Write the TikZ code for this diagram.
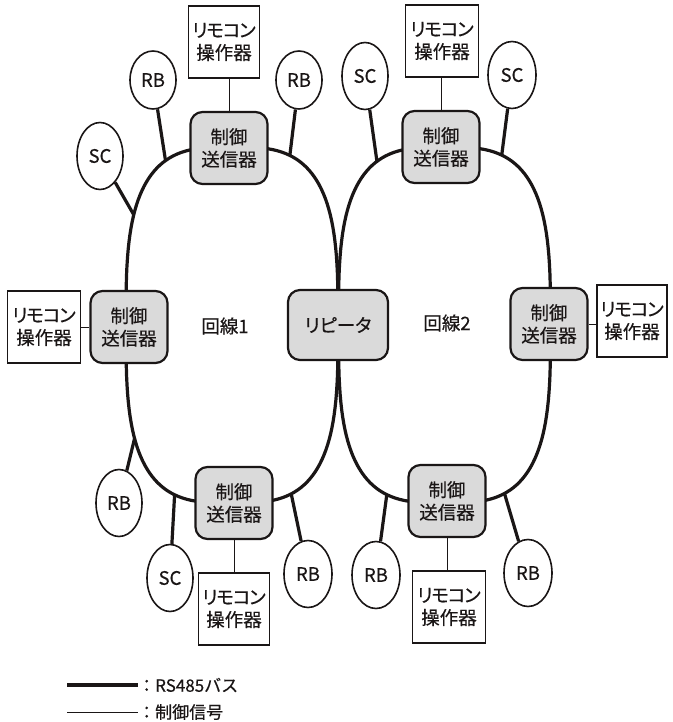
\documentclass[tikz,border=0pt]{standalone}
\usepackage{fontspec}
\setmainfont{Noto Sans CJK JP}[RawFeature={+palt}, FakeBold=0.4]
\newfontfamily\jpf{Noto Sans CJK JP}[FakeBold=0.4]
\newfontfamily\jpk{Noto Sans CJK JP}[RawFeature={+palt}, FakeBold=0.4, LetterSpace=-6]
\usetikzlibrary{shapes.geometric}
\definecolor{boxgray}{RGB}{218,218,218}
\definecolor{ink}{RGB}{26,22,22}
\newcommand{\busPt}[4]{\coordinate (#1) at ({#2 + 106*((cos(#4)>=0)?1:-1)*abs(cos(#4))^0.625}, {#3 - 178*((sin(#4)>=0)?1:-1)*abs(sin(#4))^0.625});}
\newcommand{\busLoop}[2]{\draw[bus] plot[domain=0.3:360.3, samples=145, variable=\t] ({#1 + 106*((cos(\t)>=0)?1:-1)*abs(cos(\t))^0.625}, {#2 - 178*((sin(\t)>=0)?1:-1)*abs(sin(\t))^0.625}) -- cycle;}
\newcommand{\remtxt}{{\jpk リモコン}\\操作器}
\tikzset{
  bus/.style={line width=3.2pt, draw=ink, line join=round},
  tap/.style={line width=3.2pt, draw=ink},
  sig/.style={line width=1pt, draw=ink},
  txt/.style={font=\fontsize{18.5}{22.5}\selectfont, text=ink, align=center},
  ctl/.style={txt, draw=ink, line width=2.2pt, rounded corners=12pt, fill=boxgray,
    minimum width=77pt, minimum height=72pt, inner sep=0pt},
  rem/.style={txt, draw=ink, line width=1.2pt, fill=white,
    minimum width=71pt, minimum height=72pt, inner sep=0pt},
  dev/.style={txt, draw=ink, ellipse, line width=1.6pt, fill=white,
    minimum width=46pt, minimum height=67pt, inner sep=0pt},
  devs/.style={dev, minimum height=58pt},
}
\begin{document}
\begin{tikzpicture}[x=1pt,y=-1pt]
\useasboundingbox (0,0) rectangle (672,722);
\fill[white] (0,0) rectangle (672,722);
% RS485 bus loops
\busLoop{232}{325}
\busLoop{444.5}{325}
% junction points on the loops
\busPt{j1a}{232}{325}{118.3}
\busPt{j1b}{232}{325}{67.7}
\busPt{j1c}{232}{325}{152.3}
\busPt{j1d}{232}{325}{209.1}
\busPt{j1e}{232}{325}{248}
\busPt{j1f}{232}{325}{293.2}
\busPt{j2a}{444.5}{325}{119.1}
\busPt{j2b}{444.5}{325}{68.1}
\busPt{j2c}{444.5}{325}{247.8}
\busPt{j2d}{444.5}{325}{293.7}
% control transmitters and repeater
\node[ctl] (c1t) at (229,148) {制御\\送信器};
\node[ctl] (c1l) at (129,327) {制御\\送信器};
\node[ctl] (c1b) at (234,503) {制御\\送信器};
\node[ctl, minimum width=100pt, minimum height=70pt] (rep) at (338,325) {リピータ};
\node[ctl] (c2t) at (441,147) {制御\\送信器};
\node[ctl] (c2r) at (549,324) {制御\\送信器};
\node[ctl] (c2b) at (447,501) {制御\\送信器};
% remote operators
\node[rem] (r1t) at (224,42) {\remtxt};
\node[rem, minimum width=73pt] (r1l) at (44,327) {\remtxt};
\node[rem] (r1b) at (234,609) {\remtxt};
\node[rem, minimum width=73pt] (r2t) at (442,41) {\remtxt};
\node[rem, minimum width=70pt] (r2r) at (632,321) {\remtxt};
\node[rem, minimum width=73pt] (r2b) at (449,607) {\remtxt};
% devices
\node[devs] (d1a) at (153,80) {RB};
\node[devs] (d1b) at (299,80) {RB};
\node[dev] (d1c) at (100,156) {SC};
\node[dev] (d1d) at (119,503) {RB};
\node[dev] (d1e) at (170,578) {SC};
\node[dev, minimum width=48pt] (d1f) at (308,574) {RB};
\node[dev] (d2a) at (365,76) {SC};
\node[dev, minimum width=48pt] (d2b) at (512,75) {SC};
\node[dev, minimum width=48pt] (d2c) at (376,575) {RB};
\node[dev, minimum width=48pt] (d2d) at (528,573) {RB};
% taps
\draw[tap] (d1a) -- (j1a);
\draw[tap] (d1b) -- (j1b);
\draw[tap] (d1c) -- (j1c);
\draw[tap] (d1d) -- (j1d);
\draw[tap] (d1e) -- (j1e);
\draw[tap] (d1f) -- (j1f);
\draw[tap] (d2a) -- (j2a);
\draw[tap] (d2b) -- (j2b);
\draw[tap] (d2c) -- (j2c);
\draw[tap] (d2d) -- (j2d);
% control signals
\draw[sig] (c1t.north) -- (c1t.north |- r1t.south);
\draw[sig] (r1l) -- (c1l);
\draw[sig] (c1b) -- (r1b);
\draw[sig] (c2t.north) -- (c2t.north |- r2t.south);
\draw[sig] (c2r.east) -- (c2r.east -| r2r.west);
\draw[sig] (c2b.south) -- (c2b.south |- r2b.north);
% line labels
\node[txt] (lab1) at (225,326) {回線1};
\node[txt] (lab2) at (447,323) {回線2};
% legend
\coordinate (la) at (67,685);
\coordinate (lb) at (138,685);
\coordinate (lc) at (67,712);
\coordinate (ld) at (138,712);
\draw[bus] (la) -- (lb);
\draw[sig] (lc) -- (ld);
\node[txt, anchor=west, inner sep=0pt, font=\jpf\fontsize{17}{20}\selectfont] (leg1) at (lb) {：RS485バス};
\node[txt, anchor=west, inner sep=0pt, font=\jpf\fontsize{17}{20}\selectfont] (leg2) at (ld) {：制御信号};
\end{tikzpicture}
\end{document}
